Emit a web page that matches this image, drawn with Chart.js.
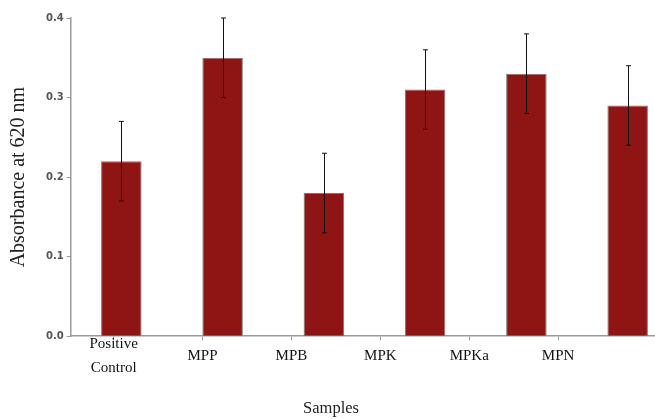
<!DOCTYPE html>
<html>
<head>
<meta charset="utf-8">
<script src="https://cdn.jsdelivr.net/npm/chart.js@4.4.0/dist/chart.umd.min.js"></script>
<style>
  html, body { margin: 0; padding: 0; background: #fff; overflow: hidden; }
  #wrap { width: 655px; height: 419px; }
</style>
</head>
<body>
<div id="wrap"><canvas id="absChart" width="655" height="419"></canvas></div>
<script>
// Samples and absorbance values
var samples = [['Positive', 'Control'], 'MPP', 'MPB', 'MPK', 'MPKa', 'MPN'];
var absorbance = [0.22, 0.35, 0.18, 0.31, 0.33, 0.29];
var errors = [0.05, 0.05, 0.05, 0.05, 0.05, 0.05];
var yTicks = [0.0, 0.1, 0.2, 0.3, 0.4];

var barColor = '#8f1414';
var axisGray = '#9a9a9a';

// one tick per sample
function sampleTicks(axis) {
    axis.ticks = samples.map(function (s, i) { return { value: i }; });
}

// error bars drawn through the y scale
var errorBars = {
    id: 'errorBars',
    afterDatasetsDraw: function (chart) {
        var ctx = chart.ctx;
        var meta = chart.getDatasetMeta(0);
        var y = chart.scales.y;
        ctx.save();
        ctx.strokeStyle = '#111';
        ctx.lineWidth = 1;
        meta.data.forEach(function (bar, i) {
            var x = Math.round(bar.x) + 0.5;
            var top = y.getPixelForValue(absorbance[i] + errors[i]);
            var bot = y.getPixelForValue(absorbance[i] - errors[i]);
            ctx.beginPath();
            ctx.moveTo(x, top);
            ctx.lineTo(x, bot);
            ctx.moveTo(x - 2.5, top);
            ctx.lineTo(x + 2.5, top);
            ctx.moveTo(x - 2.5, bot);
            ctx.lineTo(x + 2.5, bot);
            ctx.stroke();
        });
        ctx.restore();
    }
};

var ctx = document.getElementById('absChart').getContext('2d');

var myChart = new Chart(ctx, {
    type: 'bar',
    data: {
        datasets: [{
            data: absorbance.map(function (v, i) { return { x: i, y: v }; }),
            backgroundColor: barColor,
            borderColor: '#777',
            borderWidth: 1,
            categoryPercentage: 1,
            barPercentage: 0.4
        }]
    },
    options: {
        responsive: false,
        animation: false,
        layout: { padding: { left: 7, right: 0, top: 18, bottom: 0 } },
        plugins: {
            legend: { display: false },
            tooltip: { enabled: false },
            title: {
                display: true,
                text: 'Samples',
                position: 'bottom',
                color: '#222',
                font: { family: 'Liberation Serif', size: 16.5, weight: 'normal', lineHeight: 1.2 },
                padding: { top: 3, bottom: 0 }
            }
        },
        scales: {
            // axis for the bars (hidden)
            x: {
                type: 'linear',
                display: false,
                offset: false,
                grid: { offset: false },
                min: -0.5,
                max: 5.27,
                afterBuildTicks: sampleTicks
            },
            // axis carrying the sample labels
            xl: {
                type: 'linear',
                position: 'bottom',
                offset: false,
                min: -0.483,
                max: 6.09,
                afterBuildTicks: sampleTicks,
                ticks: {
                    autoSkip: false,
                    maxRotation: 0,
                    crossAlign: 'center',
                    padding: 4,
                    color: '#111',
                    font: { family: 'Liberation Serif', size: 15, lineHeight: 1.6 },
                    callback: function (v) { return samples[Math.round(v)]; }
                },
                grid: { offset: false, drawOnChartArea: false, drawTicks: true, tickLength: 4, color: axisGray },
                border: { display: true, color: axisGray, width: 1.5 }
            },
            y: {
                min: 0,
                max: 0.4,
                afterBuildTicks: function (axis) {
                    axis.ticks = yTicks.map(function (v) { return { value: v }; });
                },
                ticks: {
                    padding: 3,
                    color: '#555',
                    font: { family: 'DejaVu Sans', size: 10, weight: 'bold' },
                    callback: function (v) { return v.toFixed(1); }
                },
                grid: { drawOnChartArea: false, drawTicks: true, tickLength: 4, color: axisGray },
                border: { display: true, color: axisGray, width: 1.5 },
                title: {
                    display: true,
                    text: 'Absorbance at 620 nm',
                    color: '#222',
                    font: { family: 'Liberation Serif', size: 20, weight: 'normal', lineHeight: 1.2 },
                    padding: { top: 0, bottom: 12 }
                }
            }
        }
    },
    plugins: [errorBars]
});
</script>
</body>
</html>
